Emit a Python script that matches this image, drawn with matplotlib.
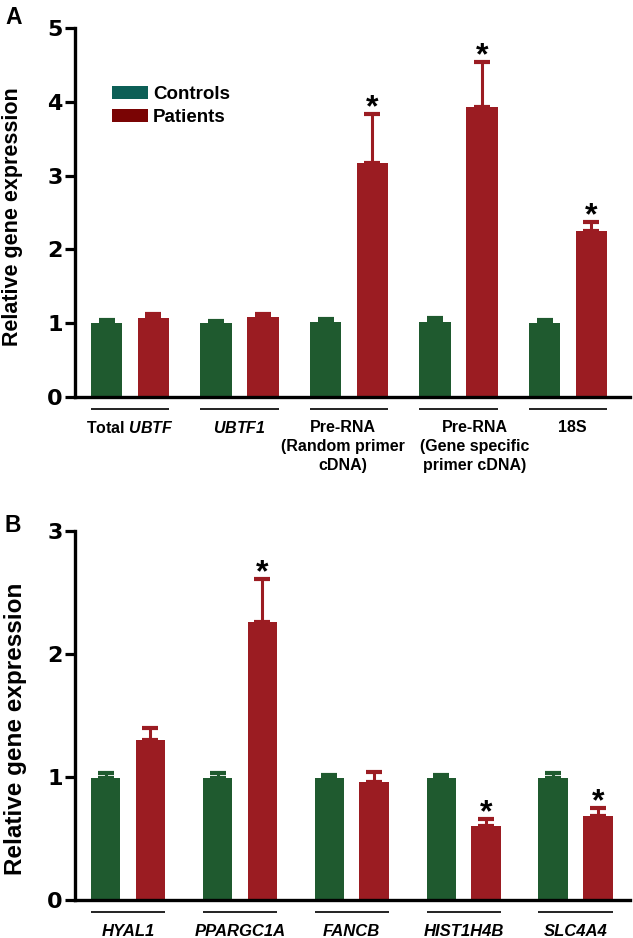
import matplotlib
matplotlib.use("Agg")
import matplotlib.pyplot as plt
import matplotlib.transforms as mtransforms
from matplotlib.patches import Patch
import numpy as np

plt.rcParams['font.family'] = ['Liberation Sans', 'DejaVu Sans']
plt.rcParams['mathtext.fontset'] = 'custom'
plt.rcParams['mathtext.it'] = 'Liberation Sans:bold:italic'
plt.rcParams['mathtext.rm'] = 'Liberation Sans:bold:italic'
plt.rcParams['mathtext.bf'] = 'Liberation Sans:bold:italic'

# ---------------- data ----------------
cats_a = ["Total $UBTF$", "$UBTF1$", "Pre-RNA\n(Random primer\ncDNA)",
          "Pre-RNA\n(Gene specific\nprimer cDNA)", "18S"]
controls_a = [1.00, 1.00, 1.01, 1.01, 1.00]
controls_a_err = [0.04, 0.03, 0.05, 0.06, 0.04]
patients_a = [1.07, 1.08, 3.17, 3.93, 2.25]
patients_a_err = [0.05, 0.05, 0.66, 0.61, 0.12]
sig_a = [False, False, True, True, True]
yticks_a = [0, 1, 2, 3, 4, 5]

cats_b = ["HYAL1", "PPARGC1A", "FANCB", "HIST1H4B", "SLC4A4"]
controls_b = [0.99, 0.99, 0.99, 0.99, 0.99]
controls_b_err = [0.04, 0.04, 0.03, 0.03, 0.04]
patients_b = [1.30, 2.26, 0.96, 0.60, 0.68]
patients_b_err = [0.10, 0.35, 0.08, 0.06, 0.07]
sig_b = [False, True, False, True, True]
yticks_b = [0, 1, 2, 3]

legend_labels = ["Controls", "Patients"]
ylabel_text = "Relative gene expression"

# ---------------- style ----------------
GREEN = "#1f5a2f"
RED = "#9b1c22"
LEG_GREEN = "#0c5f56"
LEG_RED = "#7a0404"

fig = plt.figure(figsize=(6.33, 9.38), dpi=100)


def panel(rect, cats, ctrl, ctrl_err, pat, pat_err, sig, yticks, xlim,
          offset, width, italic_labels, label_pad, label_size, label_shift,
          ylab_size, ylab_coords):
    ax = fig.add_axes(rect)
    x = np.arange(len(cats))
    xc = x - offset
    xp = x + offset
    ax.bar(xc, ctrl, width, color=GREEN, zorder=2)
    ax.bar(xp, pat, width, color=RED, zorder=2)
    z = np.zeros(len(cats))
    ax.errorbar(xc, ctrl, yerr=[z, ctrl_err], fmt='none', ecolor=GREEN,
                elinewidth=2.2, capsize=5.8, capthick=3, zorder=1)
    ax.errorbar(xp, pat, yerr=[z, pat_err], fmt='none', ecolor=RED,
                elinewidth=2.2, capsize=5.8, capthick=3, zorder=1)
    for xi, v, e, s in zip(xp, pat, pat_err, sig):
        if s:
            ax.annotate("*", (xi, v + e), xytext=(0, -1.5),
                        textcoords='offset points', ha='center',
                        va='baseline', fontsize=23, fontweight='bold',
                        color='black')
    ax.set_xlim(*xlim)
    ax.set_ylim(yticks[0], yticks[-1])
    ax.set_yticks(yticks)
    ax.set_yticklabels([str(t) for t in yticks], fontsize=16,
                       fontweight='bold', family='DejaVu Sans')
    ax.set_xticks(x + np.asarray(label_shift))
    ax.set_xticklabels(cats, fontsize=label_size, fontweight='bold',
                       linespacing=1.35,
                       fontstyle='italic' if italic_labels else 'normal')
    ax.tick_params(axis='x', length=0, pad=label_pad)
    ax.tick_params(axis='y', length=7.5, width=2.3, pad=1.5)
    for sp in ['top', 'right']:
        ax.spines[sp].set_visible(False)
    for sp in ['left', 'bottom']:
        ax.spines[sp].set_linewidth(2.4)
    ax.spines['bottom'].set_zorder(3)
    # group underlines below the axis
    trans = mtransforms.blended_transform_factory(
        ax.transData,
        ax.transAxes + mtransforms.ScaledTranslation(0, -11.5 / 100,
                                                     fig.dpi_scale_trans))
    for xi in x:
        ax.plot([xi - offset - width / 2, xi + offset + width / 2], [0, 0],
                color='#222222', lw=1.4, transform=trans, clip_on=False,
                solid_capstyle='butt')
    ax.set_ylabel(ylabel_text, fontsize=ylab_size, fontweight='bold')
    ax.yaxis.set_label_coords(*ylab_coords)
    return ax


ax_a = panel([75 / 633, 1 - 397 / 938, 555 / 633, 369 / 938],
             cats_a, controls_a, controls_a_err, patients_a, patients_a_err,
             sig_a, yticks_a, (-0.502, 4.566), 0.213, 0.288, False, 16.5,
             11.5, [0, 0, -0.055, 0.146, 0.036], 15.5, (-0.093, 0.49))
ax_b = panel([75 / 633, 1 - 900 / 938, 555 / 633, 369 / 938],
             cats_b, controls_b, controls_b_err, patients_b, patients_b_err,
             sig_b, yticks_b, (-0.474, 4.487), 0.2, 0.264, True, 17, 12,
             [0, 0, 0, 0, 0], 17.5, (-0.0865, 0.465))

handles = [Patch(facecolor=LEG_GREEN, edgecolor='none'),
           Patch(facecolor=LEG_RED, edgecolor='none')]
ax_a.legend(handles, legend_labels, loc='upper left',
            bbox_to_anchor=(37 / 555, 1 - 58 / 369), frameon=False,
            prop={'weight': 'bold', 'size': 13.5}, handlelength=1.9,
            handleheight=0.7, handletextpad=0.3, labelspacing=0.3,
            borderaxespad=0, borderpad=0)

fig.text(5 / 633, 1 - 24 / 938, "A", fontsize=16.5, fontweight='bold',
         va='baseline', ha='left')
fig.text(5 / 633, 1 - 532 / 938, "B", fontsize=16.5, fontweight='bold',
         va='baseline', ha='left')

fig.savefig("out.png", dpi=100)
